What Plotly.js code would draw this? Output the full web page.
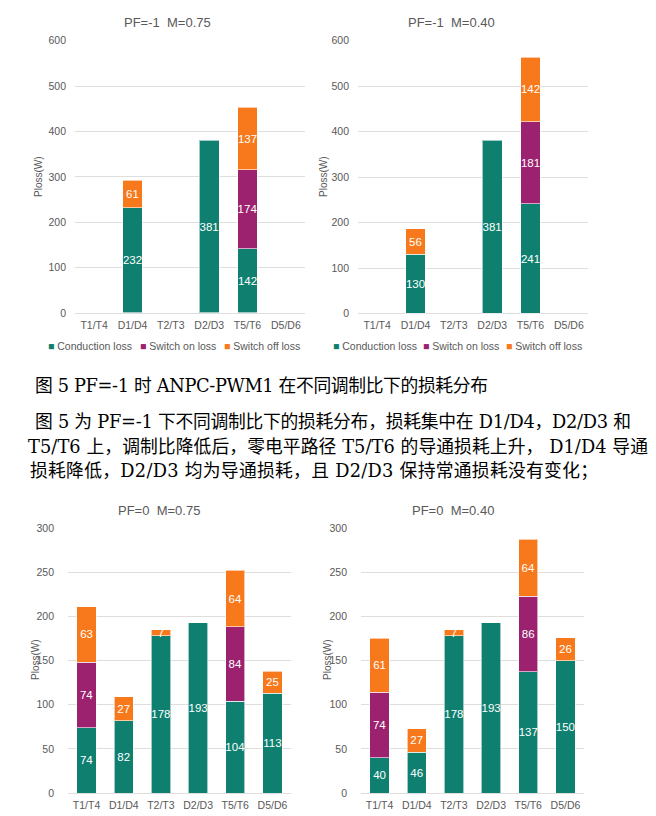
<!DOCTYPE html>
<html>
<head>
<meta charset="utf-8">
<script src="https://cdn.plot.ly/plotly-3.0.1.min.js"></script>
<style>
body{margin:0;background:#fff;}
#page{position:relative;width:656px;height:816px;overflow:hidden;}
#graph{position:absolute;left:0;top:0;width:656px;height:816px;}
.txt{position:absolute;font-family:"DejaVu Serif","Noto Sans CJK SC",serif;font-size:17.8px;line-height:24px;color:#000;white-space:nowrap;}
</style>
</head>
<body>
<div id="page">
    <div id="graph"></div>
    <div class="txt fit" data-w="453" style="left:35px;top:374px;">图 5 PF=-1 时 ANPC-PWM1 在不同调制比下的损耗分布</div>
    <div class="txt fit" data-w="596" style="left:35px;top:410px;">图 5 为 PF=-1 下不同调制比下的损耗分布，损耗集中在 D1/D4，D2/D3 和</div>
    <div class="txt fit" data-w="620" style="left:28px;top:435px;">T5/T6 上，调制比降低后，零电平路径 T5/T6 的导通损耗上升， D1/D4 导通</div>
    <div class="txt fit" data-w="568" style="left:30px;top:459px;">损耗降低，D2/D3 均为导通损耗，且 D2/D3 保持常通损耗没有变化；</div>
</div>
<script>
// categories and series
var cats = ['T1/T4', 'D1/D4', 'T2/T3', 'D2/D3', 'T5/T6', 'D5/D6'];
var seriesNames = ['Conduction loss', 'Switch on loss', 'Switch off loss'];
var colors = ['#0f8070', '#9c2270', '#f7791c'];

// PF=-1, M=0.75
var cond_pfm1_075 = [0, 232, 0, 381, 142, 0];
var on_pfm1_075   = [0, 0, 0, 0, 174, 0];
var off_pfm1_075  = [0, 61, 0, 0, 137, 0];
// PF=-1, M=0.40
var cond_pfm1_040 = [0, 130, 0, 381, 241, 0];
var on_pfm1_040   = [0, 0, 0, 0, 181, 0];
var off_pfm1_040  = [0, 56, 0, 0, 142, 0];
// PF=0, M=0.75
var cond_pf0_075 = [74, 82, 178, 193, 104, 113];
var on_pf0_075   = [74, 0, 0, 0, 84, 0];
var off_pf0_075  = [63, 27, 7, 0, 64, 25];
// PF=0, M=0.40
var cond_pf0_040 = [40, 46, 178, 193, 137, 150];
var on_pf0_040   = [74, 0, 0, 0, 86, 0];
var off_pf0_040  = [61, 27, 7, 0, 64, 26];

var titles = ['PF=-1\u00a0 M=0.75', 'PF=-1\u00a0 M=0.40', 'PF=0\u00a0 M=0.75', 'PF=0\u00a0 M=0.40'];
var yMax = [600, 600, 300, 300];
var yStep = [100, 100, 50, 50];

var panels = [
    [cond_pfm1_075, on_pfm1_075, off_pfm1_075],
    [cond_pfm1_040, on_pfm1_040, off_pfm1_040],
    [cond_pf0_075, on_pf0_075, off_pf0_075],
    [cond_pf0_040, on_pf0_040, off_pf0_040]
];

var W = 656, H = 816;
// plot areas in page pixels
var boxes = [
    {l: 75, r: 305, t: 40.7, b: 313, title: [167, 22], ytitle: [38, 177], legend: [46, 138, 222], ly: 346},
    {l: 358, r: 588, t: 40.7, b: 313.5, title: [452, 22], ytitle: [323, 177], legend: [331, 421, 504], ly: 346},
    {l: 68, r: 291, t: 528, b: 793, title: [159, 510], ytitle: [35, 660]},
    {l: 361, r: 584, t: 528, b: 793, title: [453, 510], ytitle: [327, 660]}
];

var grey = '#595959';
var sans = 'Liberation Sans, Arial, sans-serif';

function draw() {
    var data = [];
    var layout = {
        width: W, height: H,
        margin: {l: 0, r: 0, t: 0, b: 0},
        paper_bgcolor: 'rgba(0,0,0,0)',
        plot_bgcolor: 'rgba(0,0,0,0)',
        barmode: 'stack',
        bargap: 0.48,
        showlegend: false,
        font: {family: sans, color: grey},
        annotations: []
    };

    panels.forEach(function (series, p) {
        var sfx = p === 0 ? '' : String(p + 1);
        var b = boxes[p];

        series.forEach(function (vals, s) {
            data.push({
                type: 'bar',
                x: cats,
                y: vals.map(function (v) { return v || null; }),
                text: vals.map(function (v) { return v ? String(v) : ''; }),
                name: seriesNames[s],
                xaxis: 'x' + sfx,
                yaxis: 'y' + sfx,
                marker: {color: colors[s], line: {color: 'rgba(255,255,255,0.6)', width: 1}},
                textposition: 'inside',
                insidetextanchor: 'middle',
                textangle: 0,
                constraintext: 'none',
                textfont: {color: '#ffffff', size: 11.5, family: sans},
                hoverinfo: 'skip'
            });
        });

        layout['xaxis' + sfx] = {
            domain: [b.l / W, b.r / W],
            anchor: 'y' + sfx,
            type: 'category',
            categoryorder: 'array',
            categoryarray: cats,
            showgrid: false,
            showline: false,
            zeroline: false,
            ticks: '',
            ticklabelstandoff: 4,
            tickfont: {size: 10.5, color: grey, family: sans},
            fixedrange: true
        };
        layout['yaxis' + sfx] = {
            domain: [1 - b.b / H, 1 - b.t / H],
            anchor: 'x' + sfx,
            range: [0, yMax[p]],
            dtick: yStep[p],
            tick0: 0,
            gridcolor: '#dedede',
            gridwidth: 1,
            zeroline: true,
            zerolinecolor: '#dedede',
            zerolinewidth: 1,
            showline: false,
            ticks: '',
            ticklabelstandoff: p < 2 ? 8 : 13,
            tickfont: {size: 10.5, color: grey, family: sans},
            fixedrange: true
        };

        // chart title
        layout.annotations.push({
            xref: 'paper', yref: 'paper',
            x: b.title[0] / W, y: 1 - b.title[1] / H,
            xanchor: 'center', yanchor: 'middle',
            text: titles[p], showarrow: false,
            font: {size: 13, color: grey, family: sans}
        });
        // y axis title
        layout.annotations.push({
            xref: 'paper', yref: 'paper',
            x: b.ytitle[0] / W, y: 1 - b.ytitle[1] / H,
            xanchor: 'center', yanchor: 'middle',
            text: 'Ploss(W)', textangle: -90, showarrow: false,
            font: {size: 10, color: grey, family: sans}
        });
        // legend under the top charts
        if (b.legend) {
            b.legend.forEach(function (lx, s) {
                layout.annotations.push({
                    xref: 'paper', yref: 'paper',
                    x: lx / W, y: 1 - b.ly / H,
                    xanchor: 'left', yanchor: 'middle',
                    showarrow: false,
                    text: '<span style="color:' + colors[s] + '">■</span> ' + seriesNames[s],
                    font: {size: 10.5, color: grey, family: sans}
                });
            });
        }
    });

    Plotly.newPlot('graph', data, layout, {displayModeBar: false, staticPlot: true});
}

// stretch or squeeze each text line to the width it has in the figure
function fitLines() {
    var lines = document.querySelectorAll('.fit');
    lines.forEach(function (el) {
        var target = parseFloat(el.getAttribute('data-w'));
        el.style.letterSpacing = '0px';
        var natural = el.getBoundingClientRect().width;
        var n = el.textContent.length;
        if (n > 1) {
            el.style.letterSpacing = ((target - natural) / (n - 1)) + 'px';
        }
    });
}

draw();
fitLines();
</script>
</body>
</html>
